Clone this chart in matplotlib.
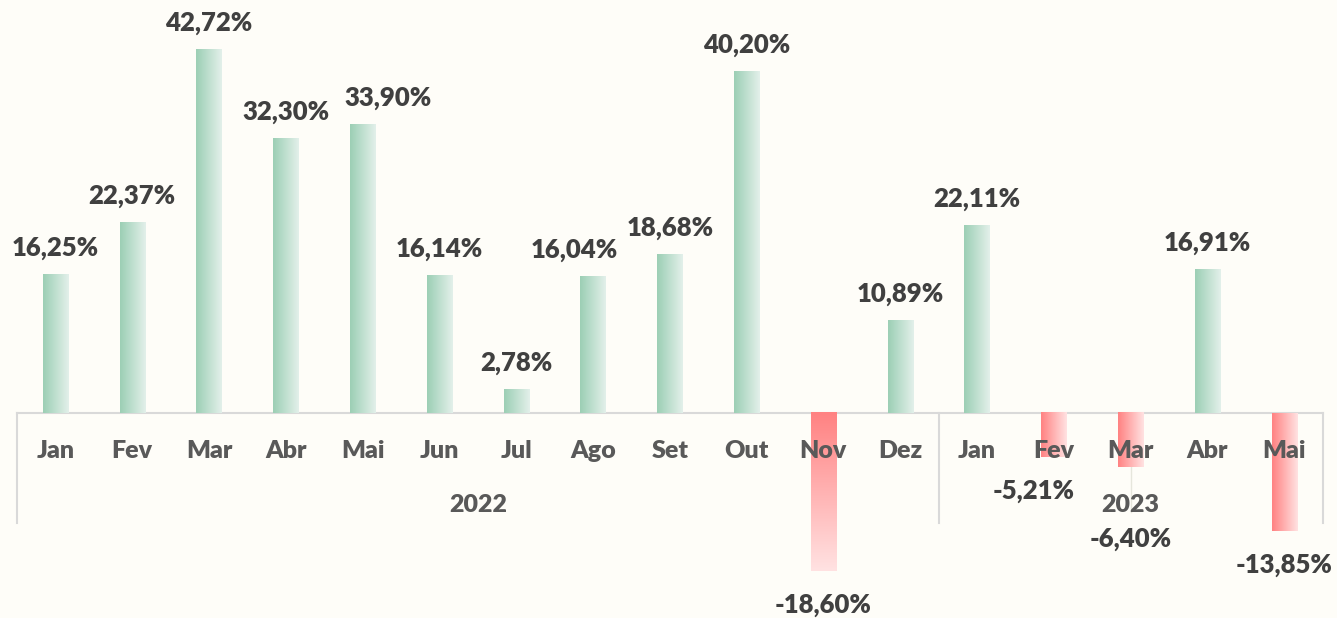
import numpy as np
import matplotlib.pyplot as plt
from matplotlib.colors import LinearSegmentedColormap

meses = ["Jan", "Fev", "Mar", "Abr", "Mai", "Jun", "Jul", "Ago", "Set", "Out", "Nov", "Dez",
         "Jan", "Fev", "Mar", "Abr", "Mai"]
valores = [16.25, 22.37, 42.72, 32.30, 33.90, 16.14, 2.78, 16.04, 18.68, 40.20, -18.60, 10.89,
           22.11, -5.21, -6.40, 16.91, -13.85]
anos = ["2022", "2023"]
meses_por_ano = [12, 5]

bg = "#fefdf8"
verde = LinearSegmentedColormap.from_list("verde", ["#9ccfb5", "#e3f0ea"])
vermelho = LinearSegmentedColormap.from_list("vermelho", ["#ff8282", "#ffe2e2"])

fig = plt.figure(figsize=(13.37, 6.18), dpi=100, facecolor=bg)
ax = fig.add_axes([0, 0, 1, 1])
ax.set_facecolor(bg)
ax.set_xlim(-0.7214, 16.6875)
ax.set_ylim(-24.12, 48.59)
ax.axis("off")

x = np.arange(len(valores))
bars = ax.bar(x, valores, width=0.33, color="none", zorder=2)
grad_h = np.linspace(0, 1, 100).reshape(1, -1)
grad_v = np.linspace(0, 1, 100).reshape(-1, 1)
for i, b in enumerate(bars):
    x0, x1 = b.get_x(), b.get_x() + b.get_width()
    v = valores[i]
    if v >= 0:
        img, cmap = grad_h, verde
    elif i == 10:
        img, cmap = grad_v, vermelho
    else:
        img, cmap = grad_h, vermelho
    ax.imshow(img, extent=[x0, x1, min(0, v), max(0, v)], aspect="auto",
              cmap=cmap, origin="upper", zorder=2, interpolation="bicubic")

# eixo e separadores
n = len(valores)
ax.plot([-0.5, n - 0.5], [0, 0], color="#d9d9d9", lw=1.5, zorder=1)
limites = np.concatenate([[0], np.cumsum(meses_por_ano)]) - 0.5
for b in limites:
    ax.plot([b, b], [0, -12.9], color="#d9d9d9", lw=1.5, zorder=1)

fonte = "Lato"
peso = "heavy"
for i, m in enumerate(meses):
    ax.text(i, -4.47, m, ha="center", va="center", fontsize=18, fontweight=peso,
            color="#595959", family=fonte, zorder=3)
for j, a in enumerate(anos):
    ax.text((limites[j] + limites[j + 1]) / 2, -10.8, a, ha="center", va="center",
            fontsize=18, fontweight=peso, color="#595959", family=fonte, zorder=3)

# rótulos de dados (alguns deslocados para não se sobreporem, como no original)
desloc_x = {4: 0.33, 7: -0.25, 13: -0.26}
for i, v in enumerate(valores):
    txt = f"{v:.2f}%".replace(".", ",")
    xi = i + desloc_x.get(i, 0)
    if v >= 0:
        ax.text(xi, v + 1.7, txt, ha="center", va="bottom", fontsize=18.5, fontweight=peso,
                color="#404040", family=fonte, zorder=3)
    else:
        off = 7.0 if i == 14 else 2.6
        ax.text(xi, v - off, txt, ha="center", va="top", fontsize=18.5, fontweight=peso,
                color="#404040", family=fonte, zorder=3)
        if i == 14:
            ax.plot([i, i], [v, v - 5.3], color="#e6e6dc", lw=1, zorder=1)

fig.savefig("out.png", dpi=100, facecolor=bg)
